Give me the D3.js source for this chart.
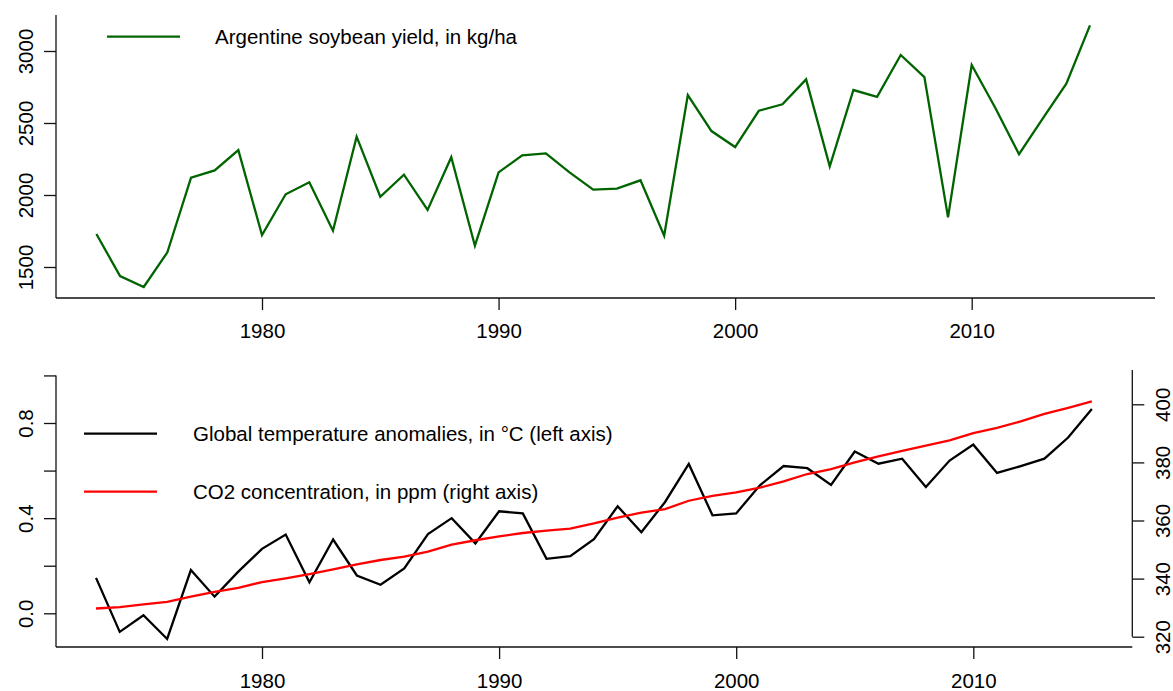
<!DOCTYPE html>
<html>
<head>
<meta charset="utf-8">
<script src="https://cdn.jsdelivr.net/npm/d3@7"></script>
<style>
  body { margin: 0; background: #fff; }
  svg text { font-family: "Liberation Sans", Arial, sans-serif; fill: #000; }
</style>
</head>
<body>
<div id="chart"></div>
<script>
// years 1973..2015
var years = d3.range(1973, 2016);

// Argentine soybean yield, kg/ha
var soyYield = [1729, 1437, 1361, 1602, 2120, 2171, 2312, 1722, 2005, 2088,
    1752, 2405, 1988, 2141, 1896, 2262, 1648, 2157, 2275, 2289,
    2157, 2037, 2044, 2102, 1718, 2694, 2444, 2333, 2585, 2630,
    2803, 2199, 2729, 2681, 2972, 2819, 1845, 2903, 2604, 2283,
    2530, 2773, 3178];

// global temperature anomalies, deg C
var tempAnom = [0.149, -0.078, -0.008, -0.108, 0.182, 0.070, 0.175, 0.271, 0.331, 0.130,
    0.310, 0.159, 0.120, 0.189, 0.333, 0.400, 0.294, 0.429, 0.420, 0.229,
    0.240, 0.312, 0.450, 0.341, 0.468, 0.628, 0.412, 0.420, 0.538, 0.619,
    0.610, 0.540, 0.680, 0.629, 0.650, 0.531, 0.642, 0.709, 0.590, 0.619,
    0.650, 0.739, 0.859];

// CO2 concentration, ppm
var co2 = [329.7, 330.2, 331.1, 332.0, 333.8, 335.4, 336.8, 338.8, 340.1, 341.5,
    343.2, 344.9, 346.4, 347.6, 349.3, 351.7, 353.2, 354.5, 355.7, 356.5,
    357.2, 359.0, 361.0, 362.7, 363.9, 366.8, 368.5, 369.7, 371.3, 373.5,
    376.0, 377.7, 380.0, 382.1, 384.0, 385.8, 387.6, 390.1, 391.9, 394.1,
    396.7, 398.8, 401.0];

var xTicks = [1980, 1990, 2000, 2010];
var soyTicks = [1500, 2000, 2500, 3000];
var tempTicks = [0, 0.2, 0.4, 0.6, 0.8, 1.0];
var tempLabelled = [0, 0.4, 0.8];
var co2Ticks = [320, 340, 360, 380, 400];

var W = 1173, H = 691;
var fs = "20.5px";

var svg = d3.select("#chart").append("svg")
    .attr("width", W)
    .attr("height", H);

function styleAxis(g) {
    g.select(".domain").remove();
    g.selectAll(".tick line").attr("stroke", "#111").attr("stroke-width", 1.3);
    g.selectAll(".tick text").style("font-size", fs).attr("fill", "#000");
}

function rotLabels(g, off) {
    g.selectAll(".tick text")
        .attr("x", 0)
        .attr("y", off)
        .attr("dy", 0)
        .attr("transform", "rotate(-90)")
        .style("text-anchor", "middle");
}

function axisLine(x1, y1, x2, y2) {
    svg.append("line")
        .attr("x1", x1).attr("y1", y1)
        .attr("x2", x2).attr("y2", y2)
        .attr("stroke", "#111")
        .attr("stroke-width", 1.3);
}

// ---- top panel: soybean yield ----
var x1 = d3.scaleLinear().domain([1980, 2010]).range([262, 971.7]);
var ySoy = d3.scaleLinear().domain([1500, 3000]).range([267, 51]);

axisLine(56, 15, 56, 298);
axisLine(56, 298, 1155, 298);

var gx1 = svg.append("g")
    .attr("transform", "translate(0,298)")
    .call(d3.axisBottom(x1).tickValues(xTicks).tickSize(12).tickFormat(d3.format("d")));
styleAxis(gx1);
gx1.selectAll(".tick text").attr("y", 40).attr("dy", 0);

var gy1 = svg.append("g")
    .attr("transform", "translate(56,0)")
    .call(d3.axisLeft(ySoy).tickValues(soyTicks).tickSize(12).tickFormat(d3.format("d")));
styleAxis(gy1);
rotLabels(gy1, -23);

var soyLine = d3.line()
    .x(function(d, i) { return x1(years[i]); })
    .y(function(d) { return ySoy(d); });

svg.append("path")
    .datum(soyYield)
    .attr("d", soyLine)
    .attr("fill", "none")
    .attr("stroke", "#006400")
    .attr("stroke-width", 2.3);

// legend
svg.append("line")
    .attr("x1", 107).attr("x2", 180)
    .attr("y1", 36.7).attr("y2", 36.7)
    .attr("stroke", "#006400").attr("stroke-width", 2.3);
svg.append("text")
    .attr("x", 215).attr("y", 44)
    .style("font-size", fs)
    .text("Argentine soybean yield, in kg/ha");

// ---- bottom panel: temperature and CO2 ----
var x2 = d3.scaleLinear().domain([1980, 2010]).range([262, 973.3]);
var yTemp = d3.scaleLinear().domain([0, 0.8]).range([613.3, 423]);
var yCo2 = d3.scaleLinear().domain([320, 400]).range([636.7, 404.3]);

axisLine(56, yTemp(1.0), 56, 647);
axisLine(56, 647, 1132.3, 647);
axisLine(1132.3, 370, 1132.3, yCo2(320));

var gx2 = svg.append("g")
    .attr("transform", "translate(0,647)")
    .call(d3.axisBottom(x2).tickValues(xTicks).tickSize(12).tickFormat(d3.format("d")));
styleAxis(gx2);
gx2.selectAll(".tick text").attr("y", 41).attr("dy", 0);

var gy2 = svg.append("g")
    .attr("transform", "translate(56,0)")
    .call(d3.axisLeft(yTemp).tickValues(tempTicks).tickSize(12)
        .tickFormat(function(d) {
            return tempLabelled.some(function(v) { return Math.abs(v - d) < 1e-9; }) ? d3.format(".1f")(d) : "";
        }));
styleAxis(gy2);
rotLabels(gy2, -23);

var gy3 = svg.append("g")
    .attr("transform", "translate(1132.3,0)")
    .call(d3.axisRight(yCo2).tickValues(co2Ticks).tickSize(12).tickFormat(d3.format("d")));
styleAxis(gy3);
rotLabels(gy3, 38);

var tempLine = d3.line()
    .x(function(d, i) { return x2(years[i]); })
    .y(function(d) { return yTemp(d); });

var co2Line = d3.line()
    .x(function(d, i) { return x2(years[i]); })
    .y(function(d) { return yCo2(d); });

svg.append("path")
    .datum(tempAnom)
    .attr("d", tempLine)
    .attr("fill", "none")
    .attr("stroke", "#000")
    .attr("stroke-width", 2.3);

svg.append("path")
    .datum(co2)
    .attr("d", co2Line)
    .attr("fill", "none")
    .attr("stroke", "#ff0000")
    .attr("stroke-width", 2.3);

// legend
var legend2 = [
    {label: "Global temperature anomalies, in \u00b0C (left axis)", color: "#000", y: 433.7},
    {label: "CO2 concentration, in ppm (right axis)", color: "#ff0000", y: 491.7}
];

legend2.forEach(function(d) {
    svg.append("line")
        .attr("x1", 84).attr("x2", 157)
        .attr("y1", d.y).attr("y2", d.y)
        .attr("stroke", d.color).attr("stroke-width", 2.3);
    svg.append("text")
        .attr("x", 193).attr("y", d.y + 7.3)
        .style("font-size", fs)
        .text(d.label);
});
</script>
</body>
</html>
